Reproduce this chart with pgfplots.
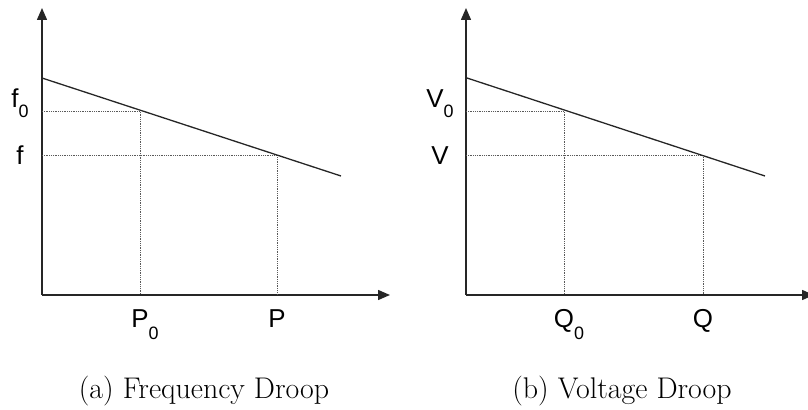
\documentclass[border=0pt]{standalone}
\usepackage{fontspec}
\usepackage{pgfplots}
\pgfplotsset{compat=1.18}
\usetikzlibrary{arrows.meta}
\newfontfamily\arial{Liberation Sans}
% sans axis labels; the subscript hangs to the right without taking width
\newcommand{\lbl}[1]{{\arial\fontsize{26}{26}\selectfont #1}}
\newcommand{\sub}[1]{\raisebox{#1}{\fontsize{18}{18}\selectfont 0}}

\pgfplotsset{
  droop/.style={
    x=1bp, y=1bp, scale only axis,
    xmin=0, xmax=348, ymin=0, ymax=287,
    axis lines=left,
    axis line style={line width=1.5bp, black!85, -{Triangle[length=12bp,width=10bp]}},
    major tick length=0pt,
    clip=false,
    anchor=south west,
    yticklabel style={anchor=base, inner sep=0pt},
    xticklabel style={anchor=base, inner sep=0pt, yshift=-33bp},
  },
  guide/.style={line width=0.8bp, black!65, densely dotted},
  curve/.style={line width=1.3bp, black!85},
}

\begin{document}
\begin{tikzpicture}
\useasboundingbox (0,0) rectangle (808bp,410bp);

% (a) frequency droop: f against P
\begin{axis}[droop, at={(42bp,115bp)},
  xtick={98,235},
  xticklabels={\lbl{P\rlap{\sub{-12bp}}}, \lbl{P}},
  ytick={140,184},
  yticklabels={\lbl{\raisebox{-10bp}{f}}, \lbl{\raisebox{3bp}{f\sub{-10bp}}}},
  yticklabel style={xshift=-22bp}]
  \addplot[guide] coordinates {(0,184) (98,184) (98,0)};
  \addplot[guide] coordinates {(0,140) (235,140) (235,0)};
  \addplot[curve] coordinates {(0,217) (299,119)};
\end{axis}

% (b) voltage droop: V against Q
\begin{axis}[droop, at={(466bp,115bp)},
  xtick={98,237},
  xticklabels={\lbl{Q\rlap{\sub{-12bp}}}, \lbl{Q}},
  ytick={140,184},
  yticklabels={\lbl{\raisebox{-10bp}{V}}, \lbl{\raisebox{3bp}{V\sub{-10bp}}}},
  yticklabel style={xshift=-26bp}]
  \addplot[guide] coordinates {(0,184) (98,184) (98,0)};
  \addplot[guide] coordinates {(0,140) (237,140) (237,0)};
  \addplot[curve] coordinates {(1,217) (299,119)};
\end{axis}

\node[anchor=base, font=\fontsize{30}{36}\selectfont] at (204bp,12bp) {(a) Frequency Droop};
\node[anchor=base, font=\fontsize{30}{36}\selectfont] at (622bp,12bp) {(b) Voltage Droop};
\end{tikzpicture}
\end{document}
